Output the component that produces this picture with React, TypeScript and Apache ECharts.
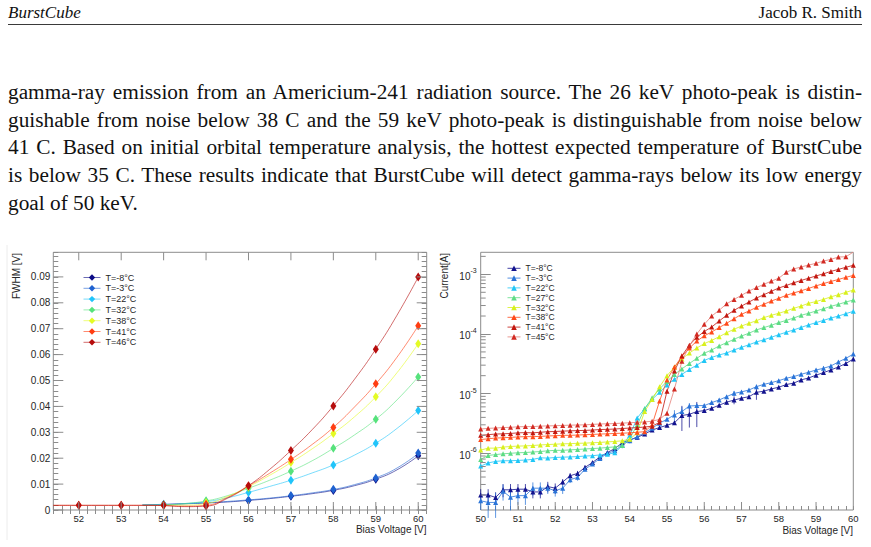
import React, { useEffect, useRef } from "react";
import * as echarts from "echarts";

const SANS = "'Liberation Sans', Arial, Helvetica, sans-serif";
const SERIF = "'Liberation Serif', 'Times New Roman', serif";
const AXIS = "#8c8c8c";
const INK = "#262626";

// ---------- page text ----------
const headerLeft = "BurstCube";
const headerRight = "Jacob R. Smith";
const bodyLines = [
  "gamma-ray emission from an Americium-241 radiation source. The 26 keV photo-peak is distin-",
  "guishable from noise below 38 C and the 59 keV photo-peak is distinguishable from noise below",
  "41 C. Based on initial orbital temperature analysis, the hottest expected temperature of BurstCube",
  "is below 35 C. These results indicate that BurstCube will detect gamma-rays below its low energy",
  "goal of 50 keV.",
];

// ---------- left panel: FWHM vs bias voltage ----------
const fwhmLabels = ["T=-8°C", "T=-3°C", "T=22°C", "T=32°C", "T=38°C", "T=41°C", "T=46°C"];
const fwhmColors = ["#0c0c86", "#1f62d0", "#20c4fa", "#56e27c", "#e4fb24", "#ff3d12", "#b60c0c"];
const fwhmVoltages = [52, 53, 54, 55, 56, 57, 58, 59, 60];
const fwhmTm8 = [null, null, 0.0021, 0.0027, 0.0037, 0.0053, 0.0075, 0.0119, 0.0209];
const fwhmTm3 = [null, null, 0.0022, 0.0028, 0.0039, 0.0056, 0.008, 0.0124, 0.022];
const fwhmT22 = [null, null, 0.002, 0.0032, 0.0068, 0.0115, 0.0174, 0.0258, 0.0384];
const fwhmT32 = [null, null, 0.002, 0.0036, 0.0084, 0.015, 0.0238, 0.035, 0.0514];
const fwhmT38 = [null, null, 0.0019, 0.0028, 0.009, 0.0183, 0.0295, 0.0437, 0.0642];
const fwhmT41 = [0.0018, 0.0018, 0.0018, 0.0022, 0.0093, 0.0196, 0.0319, 0.0487, 0.0711];
const fwhmT46 = [0.0018, 0.0018, 0.0018, 0.0015, 0.0094, 0.023, 0.0402, 0.0621, 0.09];
const fwhmValues = [fwhmTm8, fwhmTm3, fwhmT22, fwhmT32, fwhmT38, fwhmT41, fwhmT46];

// fitted curves, sampled along the voltage axis
const fitVoltages = [51.4, 52, 53, 53.5, 54, 54.5, 55, 55.5, 56, 56.5, 57, 57.5, 58, 58.5, 59, 59.5, 60];
const fitTm8 = [null, null, null, 0.0019, 0.0021, 0.0024, 0.0027, 0.0031, 0.0037, 0.0044, 0.0053, 0.0063, 0.0076, 0.0094, 0.0119, 0.0155, 0.0209];
const fitTm3 = [null, null, null, 0.0019, 0.0022, 0.0025, 0.0028, 0.0033, 0.0039, 0.0046, 0.0055, 0.0066, 0.0079, 0.0098, 0.0124, 0.0162, 0.0218];
const fitT22 = [null, null, null, 0.0019, 0.002, 0.0024, 0.0032, 0.0047, 0.0068, 0.0091, 0.0115, 0.0143, 0.0174, 0.0212, 0.0258, 0.0315, 0.0384];
const fitT32 = [null, null, null, 0.0019, 0.002, 0.0025, 0.0035, 0.0055, 0.0084, 0.0115, 0.015, 0.019, 0.0238, 0.029, 0.035, 0.0425, 0.0514];
const fitT38 = [null, null, null, null, 0.0019, 0.0019, 0.0025, 0.0052, 0.009, 0.0134, 0.0183, 0.0236, 0.0295, 0.036, 0.0437, 0.053, 0.0642];
const fitT41 = [0.0018, 0.0018, 0.0018, 0.0018, 0.0017, 0.0015, 0.0018, 0.0048, 0.0093, 0.0142, 0.0195, 0.0253, 0.0319, 0.0398, 0.0487, 0.059, 0.0711];
const fitT46 = [0.0018, 0.0018, 0.0018, 0.0018, 0.0017, 0.0013, 0.0015, 0.0045, 0.0094, 0.0157, 0.023, 0.031, 0.0402, 0.0505, 0.0621, 0.0752, 0.0899];
const fitValues = [fitTm8, fitTm3, fitT22, fitT32, fitT38, fitT41, fitT46];

const fwhmMajorX = [52, 53, 54, 55, 56, 57, 58, 59, 60];
const fwhmMajorY = [0, 0.01, 0.02, 0.03, 0.04, 0.05, 0.06, 0.07, 0.08, 0.09];

// ---------- right panel: current vs bias voltage ----------
const ivLabels = ["T=-8°C", "T=-3°C", "T=22°C", "T=27°C", "T=32°C", "T=38°C", "T=41°C", "T=45°C"];
const ivColors = ["#12128e", "#2a74d8", "#1fc6f6", "#5ddc84", "#d8f01c", "#ff4a1a", "#c2170f", "#d22a22"];
const ivLineColors = ["#12128e", "#2a74d8", "#1fc6f6", "#5ddc84", "#d8f01c", "#ff4a1a", "#c2170f", "#e58078"];
const ivVoltages = [
  50, 50.2, 50.4, 50.6, 50.8, 51, 51.2, 51.4, 51.6, 51.8, 52, 52.2, 52.4, 52.6, 52.8, 53, 53.2, 53.4, 53.6, 53.8,
  54, 54.2, 54.4, 54.6, 54.8, 55, 55.2, 55.4, 55.6, 55.8, 56, 56.2, 56.4, 56.6, 56.8, 57, 57.2, 57.4, 57.6, 57.8,
  58, 58.2, 58.4, 58.6, 58.8, 59, 59.2, 59.4, 59.6, 59.8, 60,
];
const ivTm8 = [
  2.0e-7, 2.0e-7, 1.82e-7, 2.44e-7, 2.44e-7, 2.5e-7, 2.5e-7, 2.25e-7, 2.25e-7, 2.77e-7, 2.6e-7, 3.3e-7, 4.2e-7, 4.6e-7, 5.8e-7, 7.0e-7, 8.7e-7, 1.03e-6, 1.2e-6, 1.5e-6,
  1.68e-6, 1.85e-6, 2.1e-6, 2.45e-6, 2.7e-6, 2.95e-6, 3.25e-6, 4.3e-6, 4.5e-6, 5.0e-6, 5.2e-6, 5.7e-6, 6.4e-6, 7.2e-6, 7.8e-6, 8.4e-6, 8.9e-6, 1.05e-5, 1.1e-5, 1.2e-5,
  1.28e-5, 1.42e-5, 1.5e-5, 1.7e-5, 1.83e-5, 2.04e-5, 2.25e-5, 2.5e-5, 2.8e-5, 3.2e-5, 3.8e-5,
];
const ivTm3 = [
  1.6e-7, 1.5e-7, 1.5e-7, 2.3e-7, 1.84e-7, 1.95e-7, 1.95e-7, 2.6e-7, 2.6e-7, 2.6e-7, 2.35e-7, 2.6e-7, 3.6e-7, 3.95e-7, 5.4e-7, 6.6e-7, 8.2e-7, 1.0e-6, 1.1e-6, 1.38e-6,
  1.63e-6, 1.9e-6, 2.22e-6, 2.63e-6, 3.19e-6, 3.72e-6, 4.4e-6, 5.0e-6, 6.2e-6, 6.3e-6, 6.3e-6, 7.07e-6, 7.83e-6, 8.9e-6, 1.01e-5, 1.07e-5, 1.15e-5, 1.31e-5, 1.43e-5, 1.53e-5,
  1.65e-5, 1.81e-5, 1.93e-5, 2.11e-5, 2.28e-5, 2.49e-5, 2.66e-5, 2.91e-5, 3.4e-5, 3.9e-5, 4.6e-5,
];
const ivT22 = [
  6.1e-7, 6.9e-7, 7.3e-7, 7.5e-7, 7.5e-7, 7.6e-7, 7.7e-7, 7.9e-7, 8.4e-7, 8.3e-7, 8.5e-7, 8.6e-7, 8.7e-7, 8.8e-7, 9.0e-7, 9.1e-7, 9.4e-7, 9.6e-7, 1.02e-6, 1.35e-6,
  2.0e-6, 3.9e-6, 5.6e-6, 8.0e-6, 1.05e-5, 1.4e-5, 1.75e-5, 2.1e-5, 2.55e-5, 3.0e-5, 3.6e-5, 4.05e-5, 4.45e-5, 4.8e-5, 5.4e-5, 5.98e-5, 6.6e-5, 7.35e-5, 8.0e-5, 8.8e-5,
  9.75e-5, 1.07e-4, 1.17e-4, 1.29e-4, 1.42e-4, 1.55e-4, 1.69e-4, 1.85e-4, 2.0e-4, 2.19e-4, 2.4e-4,
];
const ivT27 = [
  7.9e-7, 9.2e-7, 9.5e-7, 9.8e-7, 1.0e-6, 1.02e-6, 1.03e-6, 1.05e-6, 1.07e-6, 1.1e-6, 1.12e-6, 1.12e-6, 1.14e-6, 1.16e-6, 1.18e-6, 1.2e-6, 1.22e-6, 1.25e-6, 1.28e-6, 1.35e-6,
  1.75e-6, 3.0e-6, 5.6e-6, 8.5e-6, 1.2e-5, 1.6e-5, 2.1e-5, 2.6e-5, 3.2e-5, 3.9e-5, 4.75e-5, 5.4e-5, 6.3e-5, 7.15e-5, 8.15e-5, 9.25e-5, 1.03e-4, 1.17e-4, 1.28e-4, 1.4e-4,
  1.55e-4, 1.69e-4, 1.85e-4, 2.06e-4, 2.22e-4, 2.43e-4, 2.65e-4, 2.91e-4, 3.14e-4, 3.43e-4, 3.71e-4,
];
const ivT32 = [
  1.13e-6, 1.22e-6, 1.22e-6, 1.27e-6, 1.3e-6, 1.32e-6, 1.33e-6, 1.35e-6, 1.38e-6, 1.4e-6, 1.42e-6, 1.44e-6, 1.45e-6, 1.47e-6, 1.48e-6, 1.5e-6, 1.52e-6, 1.55e-6, 1.58e-6, 1.62e-6,
  1.72e-6, 2.2e-6, 5.0e-6, 8.0e-6, 1.3e-5, 2.0e-5, 2.8e-5, 3.8e-5, 4.8e-5, 5.8e-5, 6.9e-5, 7.8e-5, 9.0e-5, 1.05e-4, 1.2e-4, 1.36e-4, 1.51e-4, 1.67e-4, 1.88e-4, 2.06e-4,
  2.22e-4, 2.43e-4, 2.69e-4, 2.94e-4, 3.27e-4, 3.5e-4, 3.8e-4, 4.2e-4, 4.55e-4, 4.99e-4, 5.45e-4,
];
const ivT38 = [
  1.7e-6, 1.75e-6, 1.8e-6, 1.82e-6, 1.85e-6, 1.88e-6, 1.9e-6, 1.9e-6, 1.92e-6, 1.95e-6, 1.97e-6, 2.0e-6, 2.0e-6, 2.02e-6, 2.05e-6, 2.07e-6, 2.1e-6, 2.12e-6, 2.15e-6, 2.17e-6,
  2.2e-6, 2.25e-6, 2.3e-6, 3.0e-6, 7.5e-6, 1.7e-5, 2.8e-5, 4.2e-5, 5.8e-5, 7.6e-5, 9.3e-5, 1.08e-4, 1.28e-4, 1.51e-4, 1.8e-4, 2.14e-4, 2.43e-4, 2.8e-4, 3.14e-4, 3.57e-4,
  3.96e-4, 4.45e-4, 4.87e-4, 5.3e-4, 5.8e-4, 6.4e-4, 7.0e-4, 7.6e-4, 8.2e-4, 8.9e-4, 9.6e-4,
];
const ivT41 = [
  2.0e-6, 2.05e-6, 2.1e-6, 2.12e-6, 2.15e-6, 2.2e-6, 2.22e-6, 2.2e-6, 2.25e-6, 2.3e-6, 2.32e-6, 2.35e-6, 2.38e-6, 2.4e-6, 2.42e-6, 2.45e-6, 2.5e-6, 2.52e-6, 2.55e-6, 2.6e-6,
  2.65e-6, 2.7e-6, 2.75e-6, 2.85e-6, 3.3e-6, 1.1e-5, 2.4e-5, 4.3e-5, 6.5e-5, 8.8e-5, 1.1e-4, 1.31e-4, 1.65e-4, 2.06e-4, 2.49e-4, 2.94e-4, 3.43e-4, 4.0e-4, 4.55e-4, 5.2e-4,
  5.9e-4, 6.5e-4, 7.2e-4, 7.9e-4, 8.6e-4, 9.4e-4, 1.02e-3, 1.12e-3, 1.21e-3, 1.31e-3, 1.42e-3,
];
const ivT45 = [
  2.55e-6, 2.62e-6, 2.65e-6, 2.7e-6, 2.72e-6, 2.78e-6, 2.8e-6, 2.8e-6, 2.85e-6, 2.88e-6, 2.9e-6, 2.93e-6, 2.96e-6, 2.98e-6, 3.0e-6, 3.05e-6, 3.1e-6, 3.12e-6, 3.15e-6, 3.2e-6,
  3.25e-6, 3.3e-6, 3.35e-6, 3.45e-6, 3.7e-6, 4.7e-6, 1.2e-5, 3.5e-5, 6.3e-5, 1.0e-4, 1.45e-4, 2.0e-4, 2.5e-4, 3.2e-4, 3.8e-4, 4.45e-4, 5.25e-4, 6.0e-4, 6.8e-4, 7.7e-4,
  8.6e-4, 1.08e-3, 1.23e-3, 1.33e-3, 1.43e-3, 1.53e-3, 1.67e-3, 1.78e-3, 1.95e-3, 1.97e-3, 2.36e-3,
];
const ivValues = [ivTm8, ivTm3, ivT22, ivT27, ivT32, ivT38, ivT41, ivT45];

// relative uncertainties of the two cold runs
const ivTm8Err = [
  0.25, 0.25, 0.22, 0.25, 0.25, 0.22, 0.22, 0.22, 0.22, 0.2, 0.2, 0.12, 0.1, 0.1, 0.08, 0.06, 0.05, 0.05, 0.05, 0.05,
  0.05, 0.05, 0.05, 0.05, 0.05, 0.05, 0.08, 0.45, 0.4, 0.45, 0.05, 0.05, 0.05, 0.1, 0.15, 0.05, 0.05, 0.25, 0.05, 0.05,
  0.05, 0.05, 0.05, 0.05, 0.05, 0.05, 0.05, 0.05, 0.05, 0.05, 0.05,
];
const ivTm3Err = [
  0.3, 0.45, 0.45, 0.3, 0.4, 0.3, 0.3, 0.25, 0.25, 0.2, 0.2, 0.2, 0.12, 0.12, 0.08, 0.06, 0.06, 0.06, 0.06, 0.12,
  0.1, 0.12, 0.08, 0.06, 0.06, 0.06, 0.2, 0.2, 0.12, 0.06, 0.05, 0.05, 0.05, 0.05, 0.1, 0.05, 0.05, 0.08, 0.05, 0.05,
  0.05, 0.05, 0.05, 0.05, 0.05, 0.05, 0.08, 0.05, 0.05, 0.05, 0.05,
];

const ivMin = 1.12e-7;
const ivMax = 2.34e-3;
const ivMajorX = [51, 52, 53, 54, 55, 56, 57, 58, 59];
const ivMinorY = [1e-7, 1e-6, 1e-5, 1e-4, 1e-3].flatMap((d) => [2, 3, 4, 5, 6, 7, 8, 9].map((m) => m * d));

// ---------- helpers ----------
function tickMarks(xIdx: number, yIdx: number, points: number[][], dx: number, dy: number) {
  return {
    type: "custom",
    xAxisIndex: xIdx,
    yAxisIndex: yIdx,
    silent: true,
    clip: false,
    z: 6,
    data: points,
    renderItem: (_p: any, api: any) => {
      const c = api.coord([api.value(0), api.value(1)]);
      return {
        type: "line",
        shape: { x1: c[0], y1: c[1], x2: c[0] + dx, y2: c[1] + dy },
        style: { stroke: AXIS, lineWidth: 1 },
      };
    },
  };
}

function errorBars(values: number[], rel: number[], color: string) {
  return {
    type: "custom",
    xAxisIndex: 2,
    yAxisIndex: 2,
    silent: true,
    z: 2,
    data: ivVoltages.map((v, i) => [v, values[i] * (1 - rel[i]), values[i] * (1 + rel[i])]),
    renderItem: (_p: any, api: any) => {
      const lo = api.coord([api.value(0), api.value(1)]);
      const hi = api.coord([api.value(0), api.value(2)]);
      return {
        type: "line",
        shape: { x1: lo[0], y1: lo[1], x2: hi[0], y2: hi[1] },
        style: { stroke: color, lineWidth: 1, opacity: 0.75 },
      };
    },
  };
}

const pairs = (xs: number[], ys: (number | null)[]) =>
  xs.map((x, i) => [x, ys[i]]).filter((p) => p[1] !== null);

const isInt = (v: number) => Math.abs(v - Math.round(v)) < 1e-6;

function buildOption(): any {
  const axisLabelBase = { fontFamily: SANS, fontSize: 10, color: INK };

  const fwhmX = { min: 51.4, max: 60.2, interval: 0.2 };
  const fwhmY = { min: 0, max: 0.0995, interval: 0.002 };

  const series: any[] = [];

  // fitted curves
  fitValues.forEach((vals, i) => {
    series.push({
      type: "line",
      name: "fit " + fwhmLabels[i],
      xAxisIndex: 0,
      yAxisIndex: 0,
      data: pairs(fitVoltages, vals),
      smooth: 0.5,
      showSymbol: false,
      symbol: "none",
      silent: true,
      z: 2,
      lineStyle: { color: fwhmColors[i], width: 1, opacity: 0.6 },
    });
  });
  // measured widths
  fwhmValues.forEach((vals, i) => {
    series.push({
      type: "line",
      name: "fwhm " + fwhmLabels[i],
      xAxisIndex: 0,
      yAxisIndex: 0,
      data: pairs(fwhmVoltages, vals),
      symbol: "diamond",
      symbolSize: [6, 9],
      showSymbol: true,
      z: 3,
      itemStyle: { color: fwhmColors[i] },
      lineStyle: { color: fwhmColors[i], width: 0, opacity: 0 },
    });
  });

  // current curves
  ivValues.forEach((vals, i) => {
    series.push({
      type: "line",
      name: "iv " + ivLabels[i],
      xAxisIndex: 2,
      yAxisIndex: 2,
      data: pairs(ivVoltages, vals),
      symbol: "triangle",
      symbolSize: 5,
      showSymbol: true,
      z: 3,
      itemStyle: { color: ivColors[i] },
      lineStyle: { color: ivLineColors[i], width: 1, opacity: 0.8 },
    });
  });
  series.push(errorBars(ivTm8, ivTm8Err, ivColors[0]));
  series.push(errorBars(ivTm3, ivTm3Err, ivColors[1]));

  // ROOT-style long ticks
  series.push(tickMarks(0, 0, fwhmMajorX.map((x) => [x, fwhmY.min]), 0, -8));
  series.push(tickMarks(0, 0, fwhmMajorX.map((x) => [x, fwhmY.max]), 0, 8));
  series.push(tickMarks(0, 0, fwhmMajorY.map((y) => [fwhmX.min, y]), 10, 0));
  series.push(tickMarks(0, 0, fwhmMajorY.map((y) => [fwhmX.max, y]), -10, 0));
  series.push(tickMarks(2, 2, ivMajorX.map((x) => [x, ivMin]), 0, -8));
  series.push(
    tickMarks(2, 2, ivMinorY.filter((v) => v > ivMin && v < ivMax).map((v) => [50, v]), 5, 0)
  );

  const legendBase = {
    orient: "vertical",
    selectedMode: false,
    padding: 0,
    formatter: (name: string) => name.slice(name.indexOf(" ") + 1),
  };

  const xLabel = { ...axisLabelBase, fontSize: 9.5, margin: 3, formatter: (v: number) => (isInt(v) ? String(Math.round(v)) : "") };

  return {
    animation: false,
    backgroundColor: "transparent",
    grid: [
      { left: 53.3, top: 252.3, width: 373.4, height: 257.7, show: true, borderColor: AXIS, borderWidth: 1, backgroundColor: "transparent" },
      { left: 480.7, top: 252.3, width: 372.6, height: 257.7, show: true, borderColor: AXIS, borderWidth: 1, backgroundColor: "transparent" },
    ],
    xAxis: [
      {
        type: "value",
        gridIndex: 0,
        ...fwhmX,
        axisLine: { show: false },
        axisTick: { inside: true, length: 4, lineStyle: { color: AXIS } },
        splitLine: { show: false },
        axisLabel: xLabel,
      },
      {
        type: "value",
        gridIndex: 0,
        position: "top",
        ...fwhmX,
        axisLine: { show: false },
        axisTick: { inside: true, length: 4, lineStyle: { color: AXIS } },
        splitLine: { show: false },
        axisLabel: { show: false },
      },
      {
        type: "value",
        gridIndex: 1,
        min: 50,
        max: 60,
        interval: 0.2,
        axisLine: { show: false },
        axisTick: { inside: true, length: 4, lineStyle: { color: AXIS } },
        splitLine: { show: false },
        axisLabel: xLabel,
      },
    ],
    yAxis: [
      {
        type: "value",
        gridIndex: 0,
        ...fwhmY,
        axisLine: { show: false },
        axisTick: { inside: true, length: 5, lineStyle: { color: AXIS } },
        splitLine: { show: false },
        axisLabel: {
          ...axisLabelBase,
          margin: 3,
          formatter: (v: number) =>
            isInt(v * 100) ? (Math.round(v * 100) === 0 ? "0" : (Math.round(v * 100) / 100).toFixed(2)) : "",
        },
      },
      {
        type: "value",
        gridIndex: 0,
        position: "right",
        ...fwhmY,
        axisLine: { show: false },
        axisTick: { inside: true, length: 5, lineStyle: { color: AXIS } },
        splitLine: { show: false },
        axisLabel: { show: false },
      },
      {
        type: "log",
        gridIndex: 1,
        logBase: 10,
        min: ivMin,
        max: ivMax,
        axisLine: { show: false },
        axisTick: { inside: true, length: 10, lineStyle: { color: AXIS } },
        splitLine: { show: false },
        axisLabel: {
          margin: 4,
          showMinLabel: false,
          showMaxLabel: false,
          formatter: (v: number) => `{b|10}{e|${Math.round(Math.log10(v))}}`,
          rich: {
            b: { fontFamily: SANS, fontSize: 10, color: INK, lineHeight: 14, verticalAlign: "bottom" },
            e: { fontFamily: SANS, fontSize: 7, color: INK, lineHeight: 14, verticalAlign: "top" },
          },
        },
      },
    ],
    legend: [
      {
        ...legendBase,
        data: fwhmLabels.map((l) => "fwhm " + l),
        left: 83,
        top: 272.5,
        itemWidth: 17,
        itemHeight: 8,
        itemGap: 0.8,
        textStyle: { fontFamily: SANS, fontSize: 9, lineHeight: 10, color: INK },
        lineStyle: { width: 1, opacity: 0.6 },
      },
      {
        ...legendBase,
        data: ivLabels.map((l) => "iv " + l),
        left: 507,
        top: 263.4,
        itemWidth: 13,
        itemHeight: 7,
        itemGap: 0,
        textStyle: { fontFamily: SANS, fontSize: 8.5, lineHeight: 9.8, color: INK },
        lineStyle: { width: 1, opacity: 0.8 },
      },
    ],
    graphic: [
      { type: "line", shape: { x1: 7, y1: 245, x2: 7, y2: 540 }, style: { stroke: "#ececec", lineWidth: 1 } },
      {
        type: "text",
        x: 16.5,
        y: 253,
        rotation: Math.PI / 2,
        style: { text: "FWHM [V]", fontFamily: SANS, fontSize: 10, fill: INK, textAlign: "right", textVerticalAlign: "middle" },
      },
      {
        type: "text",
        x: 426.5,
        y: 529.5,
        style: { text: "Bias Voltage [V]", fontFamily: SANS, fontSize: 10, fill: INK, textAlign: "right", textVerticalAlign: "middle" },
      },
      {
        type: "text",
        x: 444.5,
        y: 253,
        rotation: Math.PI / 2,
        style: { text: "Current[A]", fontFamily: SANS, fontSize: 10, fill: INK, textAlign: "right", textVerticalAlign: "middle" },
      },
      {
        type: "text",
        x: 853,
        y: 530,
        style: { text: "Bias Voltage [V]", fontFamily: SANS, fontSize: 10, fill: INK, textAlign: "right", textVerticalAlign: "middle" },
      },
    ],
    series,
  };
}

export default function App() {
  const ref = useRef<HTMLDivElement>(null);

  useEffect(() => {
    if (!ref.current) return;
    const chart = echarts.init(ref.current, null, { renderer: "svg" });
    chart.setOption(buildOption());
    return () => chart.dispose();
  }, []);

  return (
    <div
      style={{
        position: "absolute",
        left: 0,
        top: 0,
        width: 871,
        height: 547,
        background: "#fff",
        overflow: "hidden",
        color: "#111",
      }}
    >
      <div
        style={{
          position: "absolute",
          left: 8,
          top: 3,
          width: 854,
          height: 21,
          fontFamily: SERIF,
          fontSize: 17,
          lineHeight: "20px",
          borderBottom: "1px solid #3a3a3a",
        }}
      >
        <span style={{ fontStyle: "italic" }}>{headerLeft}</span>
        <span style={{ float: "right" }}>{headerRight}</span>
      </div>
      {bodyLines.map((line, i) => (
        <div
          key={i}
          style={{
            position: "absolute",
            left: 8,
            top: 78 + i * 27.7,
            width: 854,
            fontFamily: SERIF,
            fontSize: 21.3,
            lineHeight: "28px",
            textAlign: "justify",
            textAlignLast: i < bodyLines.length - 1 ? "justify" : "left",
          }}
        >
          {line}
        </div>
      ))}
      <div ref={ref} style={{ position: "absolute", left: 0, top: 0, width: 871, height: 547 }} />
    </div>
  );
}
